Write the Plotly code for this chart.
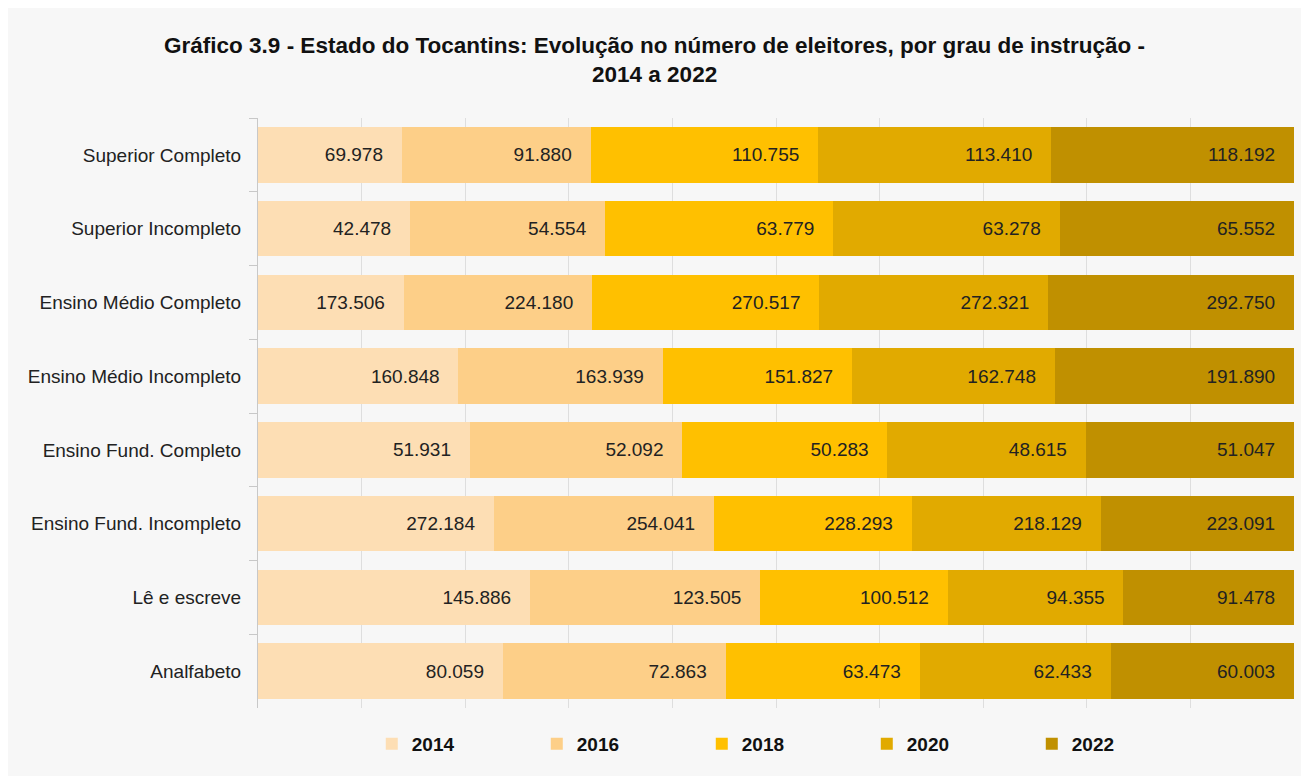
"""Gráfico 3.9 - eleitores do Tocantins por grau de instrução (100% stacked bars)."""

import plotly.graph_objects as go

categories = [
    'Superior Completo',
    'Superior Incompleto',
    'Ensino Médio Completo',
    'Ensino Médio Incompleto',
    'Ensino Fund. Completo',
    'Ensino Fund. Incompleto',
    'Lê e escreve',
    'Analfabeto',
]
years = ['2014', '2016', '2018', '2020', '2022']

v2014 = [69978, 42478, 173506, 160848, 51931, 272184, 145886, 80059]
v2016 = [91880, 54554, 224180, 163939, 52092, 254041, 123505, 72863]
v2018 = [110755, 63779, 270517, 151827, 50283, 228293, 100512, 63473]
v2020 = [113410, 63278, 272321, 162748, 48615, 218129, 94355, 62433]
v2022 = [118192, 65552, 292750, 191890, 51047, 223091, 91478, 60003]

colors = ['#fddeb4', '#fdcf88', '#ffc000', '#e1aa00', '#c09000']


def fmt(n):
    # Brazilian thousands separator
    return f'{n:,}'.replace(',', '.') + '\u00a0\u00a0\u00a0'


fig = go.Figure()
for year, vals, col in zip(years, [v2014, v2016, v2018, v2020, v2022], colors):
    fig.add_trace(go.Bar(
        y=categories,
        x=vals,
        name=year,
        orientation='h',
        marker=dict(color=col, line=dict(width=0)),
        text=[fmt(v) for v in vals],
        textposition='inside',
        insidetextanchor='end',
        textangle=0,
        constraintext='none',
        textfont=dict(size=19, color='#222222'),
    ))

# page body adds an 8px margin, so the figure is 8px smaller than the window
fig.update_layout(
    barmode='stack',
    barnorm='percent',
    bargap=0.25,
    width=1301,
    height=768,
    margin=dict(l=250, r=15, t=110, b=68),
    paper_bgcolor='#f7f7f7',
    plot_bgcolor='rgba(0,0,0,0)',
    font=dict(family='Liberation Sans, Arial, sans-serif', size=19, color='#222222'),
    title=dict(
        text='<b>Gráfico 3.9 - Estado do Tocantins: Evolução no número de eleitores, por grau de instrução -'
             '<br>2014 a 2022</b>',
        x=0.497, xref='container', xanchor='center',
        y=0.942, yref='container', yanchor='top',
        font=dict(size=22.5, color='#111111'),
    ),
    legend=dict(
        orientation='h',
        x=0.508, xanchor='center',
        y=-0.061, yanchor='middle',
        entrywidth=120,
        font=dict(size=19, color='#111111', weight='bold'),
        traceorder='normal',
        bgcolor='rgba(0,0,0,0)',
    ),
    xaxis=dict(
        range=[0, 100],
        dtick=10,
        showticklabels=False,
        showgrid=True,
        gridcolor='#dedede',
        zeroline=False,
        fixedrange=True,
    ),
    yaxis=dict(
        autorange='reversed',
        showline=True,
        linecolor='#c8c8c8',
        ticks='outside',
        tickson='boundaries',
        ticklen=8,
        tickcolor='#c8c8c8',
        ticklabelstandoff=12,
        showgrid=False,
    ),
)

fig.write_html("out.html")
